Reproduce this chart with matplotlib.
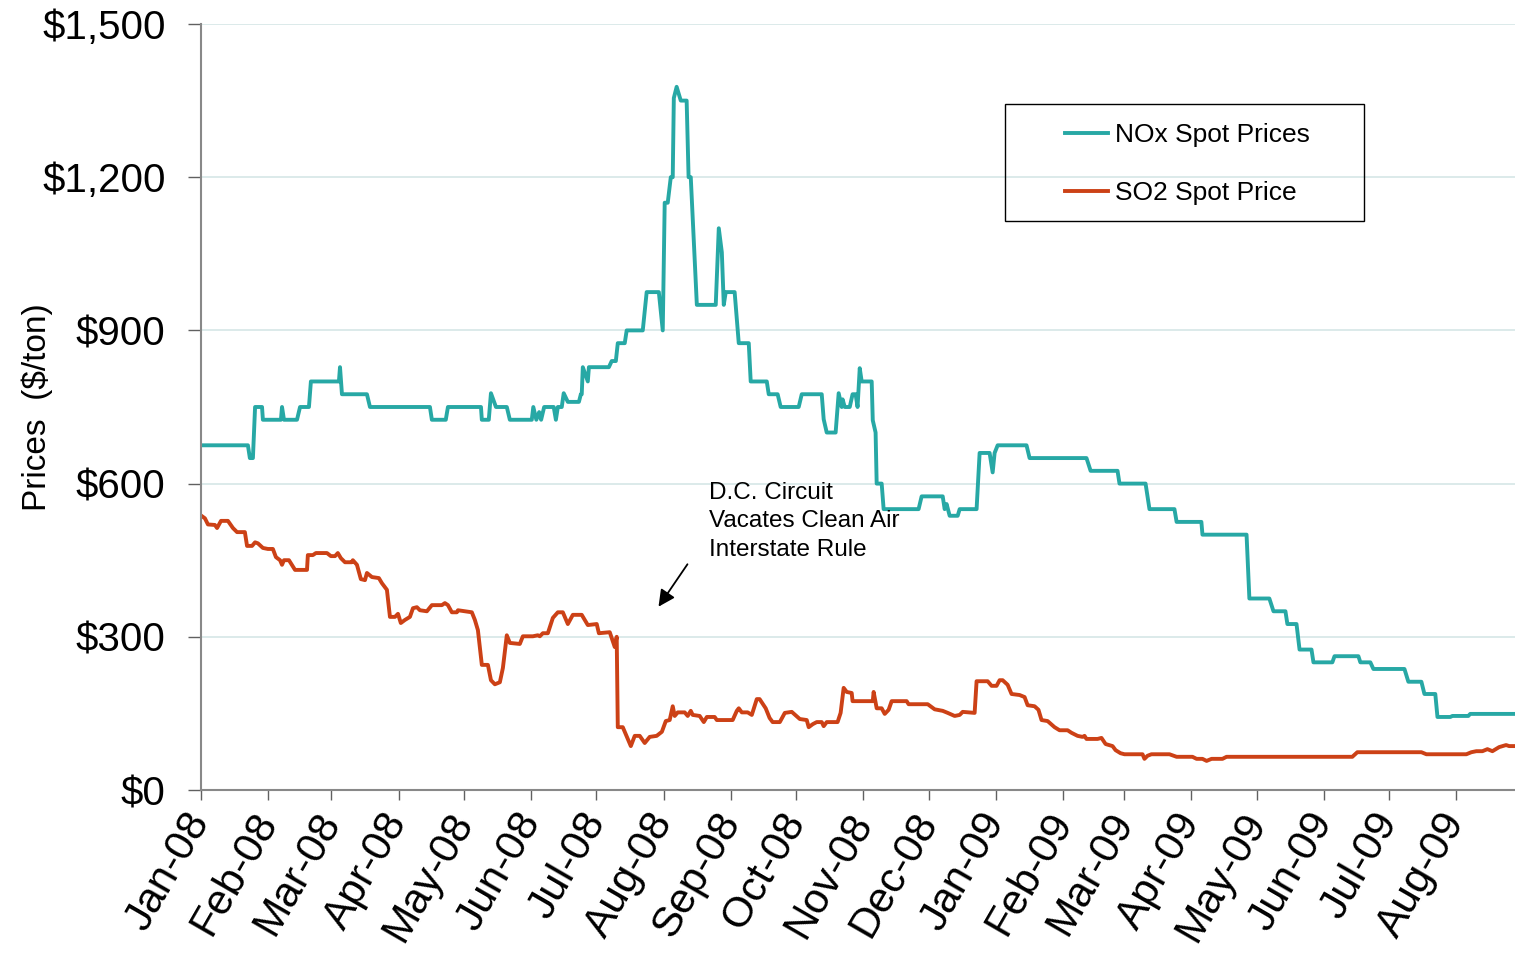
import matplotlib
matplotlib.use("Agg")
import matplotlib.pyplot as plt
import matplotlib.dates as mdates
from matplotlib.patches import Rectangle
import numpy as np
from datetime import datetime

plt.rcParams['font.family'] = ['Liberation Sans', 'DejaVu Sans']

# ====== data (days since 1 Jan 2008, $/ton) ======
start = datetime(2008, 1, 1)

nox_days = [0, 21.6, 22.5, 23.9, 24.9, 28.1, 28.5, 36.8, 37.3, 38.2, 44.2, 45.6, 49.7, 50.6,
            63.5, 64.0, 64.9, 76.4, 77.8, 105.4, 106.3, 112.7, 113.7, 128.9, 129.3, 132.5,
            133.5, 135.8, 140.8, 142.2, 152.3, 153.0, 154.4, 155.7, 156.6, 158.0, 162.4,
            163.4, 164.3, 166.1, 167.0, 168.9, 174.0, 174.9, 175.3, 175.8, 178.1, 178.6,
            187.8, 189.1, 191.0, 191.9, 195.1, 196.0, 203.4, 205.2, 210.8, 212.6, 213.5,
            214.9, 216.3, 217.2, 217.7, 219.0, 220.9, 223.6, 224.5, 225.5, 228.3, 237.0,
            238.4, 239.8, 240.7, 241.6, 245.7, 247.6, 252.2, 253.1, 260.5, 261.4, 265.5,
            266.9, 275.2, 276.6, 285.8, 286.7, 288.1, 292.2, 293.6, 295.0, 295.4, 296.4,
            298.7, 300.0, 301.4, 302.3, 303.3, 304.2, 308.8, 309.3, 310.6, 311.1, 313.4,
            314.3, 330.4, 331.8, 341.5, 342.4, 343.3, 344.7, 348.4, 349.3, 357.1, 358.5,
            363.1, 364.5, 365.4, 366.8, 380.1, 381.5, 407.7, 409.6, 422.0, 422.9, 434.9,
            436.7, 448.2, 449.2, 460.6, 461.1, 481.4, 482.7, 491.9, 493.8, 499.3, 500.2,
            504.4, 505.8, 511.3, 512.2, 520.9, 521.9, 532.9, 533.8, 538.4, 539.8, 554.1,
            555.9, 561.9, 563.3, 568.3, 569.3, 575.2, 576.2, 583.5, 584.4, 605.0]
nox_price = [675, 675, 650, 650, 750, 750, 725, 725, 750, 725, 725, 750, 750, 800,
             800, 828, 775, 775, 750, 750, 725, 725, 750, 750, 725, 725,
             777, 750, 750, 725, 725, 750, 725, 740, 725, 750, 750,
             725, 750, 750, 777, 760, 760, 775, 775, 828, 800, 828,
             828, 840, 840, 875, 875, 900, 900, 975, 975, 900, 1150,
             1150, 1200, 1200, 1355, 1377, 1350, 1350, 1200, 1200, 950, 950,
             1100, 1053, 950, 975, 975, 875, 875, 800, 800, 775, 775,
             750, 750, 775, 775, 726, 700, 700, 777, 750, 765, 750,
             750, 775, 775, 750, 826, 800, 800, 724, 700, 600, 600,
             550, 550, 575, 575, 550, 560, 537, 537, 550, 550, 660,
             660, 622, 660, 675, 675, 650, 650, 625, 625, 600, 600,
             550, 550, 525, 525, 500, 500, 375, 375, 350, 350, 325,
             325, 275, 275, 250, 250, 262, 262, 250, 250, 237, 237,
             212, 212, 188, 188, 143, 143, 145, 145, 149, 149]

so2_days = [0.5, 1.8, 3.2, 6.4, 7.4, 9.2, 12.4, 14.7, 16.6, 20.2, 21.2, 23.5, 24.9, 26.2,
            28.5, 30.8, 33.1, 34.5, 36.4, 37.3, 38.2, 40.5, 43.3, 48.8, 49.2, 51.5, 52.9,
            58.0, 59.8, 61.7, 63.0, 64.4, 66.3, 69.5, 69.9, 71.8, 73.6, 75.5, 76.4, 78.7,
            81.9, 83.3, 85.6, 87.0, 89.3, 90.7, 92.0, 93.9, 96.2, 97.6, 99.4, 100.8, 104.0,
            106.3, 110.9, 112.3, 113.7, 115.5, 117.8, 118.3, 124.7, 126.1, 127.5, 129.3,
            132.1, 133.5, 135.3, 137.6, 139.0, 140.8, 142.2, 146.8, 148.2, 152.8, 155.1,
            156.0, 157.4, 159.7, 162.0, 164.3, 166.6, 168.9, 171.2, 175.3, 176.7, 178.1,
            182.2, 183.2, 188.2, 190.5, 191.4, 191.9, 194.2, 197.9, 199.7, 202.0, 204.3,
            206.6, 209.8, 212.2, 214.0, 215.8, 217.2, 218.1, 219.5, 222.7, 224.1, 225.5,
            226.4, 229.6, 231.5, 232.9, 236.5, 237.5, 244.8, 246.7, 247.6, 249.0, 251.7,
            253.6, 255.9, 257.2, 260.0, 261.8, 263.2, 266.5, 268.8, 272.0, 275.7, 278.9,
            279.8, 281.7, 283.5, 285.8, 286.7, 288.1, 293.1, 294.5, 295.9, 297.3, 299.6,
            300.0, 309.3, 309.7, 311.1, 313.4, 314.8, 316.6, 318.0, 324.9, 325.8, 334.6,
            337.8, 341.5, 343.8, 347.0, 349.3, 350.7, 356.2, 357.1, 362.2, 364.0, 366.3,
            367.7, 369.1, 371.4, 373.2, 376.9, 379.2, 380.6, 383.8, 385.6, 387.0, 389.8,
            393.0, 395.3, 399.0, 400.8, 403.6, 405.9, 406.8, 407.7, 412.8, 414.6, 416.5,
            419.7, 421.1, 423.4, 425.2, 433.5, 434.4, 435.8, 437.6, 445.9, 449.2, 456.5,
            458.4, 461.1, 463.0, 465.3, 470.3, 472.2, 530.1, 532.4, 561.9, 564.2, 582.6,
            584.9, 587.2, 590.0, 592.3, 594.6, 597.7, 600.9, 602.3, 605.0]
so2_price = [536, 532, 520, 519, 513, 527, 527, 513, 505, 505, 478, 478, 485, 483,
             474, 472, 472, 456, 450, 441, 450, 450, 431, 431, 460, 460, 464,
             464, 458, 458, 464, 454, 446, 446, 450, 441, 413, 411, 425, 417,
             415, 405, 392, 339, 339, 345, 327, 333, 339, 356, 358, 352, 350,
             362, 362, 366, 362, 348, 348, 352, 348, 333, 313, 245,
             245, 215, 207, 211, 239, 303, 288, 286, 301, 301, 303,
             301, 307, 307, 337, 348, 348, 325, 343, 343, 333, 323,
             325, 307, 309, 280, 300, 123, 123, 86, 106, 106, 92,
             104, 106, 114, 135, 137, 164, 145, 152, 152, 145, 155,
             147, 145, 133, 143, 143, 137, 137, 155, 160, 152, 152,
             147, 178, 178, 160, 141, 133, 133, 151, 153, 139, 137,
             123, 129, 133, 133, 125, 133, 133, 151, 200, 192, 190,
             174, 174, 192, 160, 160, 149, 157, 174, 174, 168, 168,
             158, 155, 151, 145, 147, 153, 151, 213, 213, 204, 204,
             215, 215, 206, 188, 186, 182, 166, 164, 157, 137, 135,
             123, 117, 117, 112, 106, 104, 106, 100, 100, 102, 90,
             86, 78, 72, 70, 70, 61, 67, 70, 70, 65, 65,
             61, 61, 57, 61, 61, 65, 65, 74, 74, 70, 70,
             74, 76, 76, 80, 76, 84, 88, 86, 86]

y_ticks = [0, 300, 600, 900, 1200, 1500]
y_labels = ['$0', '$300', '$600', '$900', '$1,200', '$1,500']
note = 'D.C. Circuit\nVacates Clean Air\nInterstate Rule'

# ====== plot ======
base = mdates.date2num(start)
fig = plt.figure(figsize=(15.15, 9.57), dpi=100)
ax = fig.add_axes([201 / 1515, 1 - 790 / 957, 1314 / 1515, 766 / 957])

ax.plot(base + np.array(nox_days), nox_price, color='#27a8a5', lw=2.8, label='NOx Spot Prices')
ax.plot(base + np.array(so2_days), so2_price, color='#cc4116', lw=2.8, label='SO2 Spot Price')

ax.set_xlim(base, base + 605)
ax.set_ylim(0, 1500)
ax.set_yticks(y_ticks)
ax.set_yticklabels(y_labels)
ax.grid(axis='y', color='#d6e6e6', lw=1.2)
ax.set_axisbelow(True)

ax.xaxis.set_major_locator(mdates.MonthLocator())
ax.xaxis.set_major_formatter(mdates.DateFormatter('%b-%y'))
for lab in ax.get_xticklabels():
    lab.set_rotation(60)
    lab.set_ha('right')
    lab.set_va('center')
    lab.set_rotation_mode('anchor')

ax.tick_params(axis='y', length=9.5, width=1, color='#606060', pad=16, labelsize=29)
ax.tick_params(axis='x', length=7.5, width=1, color='#606060', pad=11, labelsize=30.5)
for s in ['top', 'right']:
    ax.spines[s].set_visible(False)
for s in ['left', 'bottom']:
    ax.spines[s].set_color('#888888')
    ax.spines[s].set_linewidth(1.5)

ax.set_ylabel('Prices  ($/ton)', fontsize=24)
ax.yaxis.set_label_coords(-0.113, 0.5)

# legend with a plain box around it
ax.add_patch(Rectangle((0.612, 0.743), 0.273, 0.1527, transform=ax.transAxes,
                       fill=False, edgecolor='black', lw=1, zorder=5))
ax.legend(loc='center', bbox_to_anchor=(0.7504, 0.8172), frameon=False, fontsize=19,
          handlelength=1.63, handletextpad=0.27, labelspacing=1.3, borderpad=0)

ax.text(0.3866, 0.4025, note, transform=ax.transAxes, fontsize=17.5, va='top', ha='left',
        linespacing=1.38)
ax.annotate('', xy=(0.3470, 0.2363), xytext=(0.3714, 0.2977), xycoords='axes fraction',
            textcoords='axes fraction',
            arrowprops=dict(arrowstyle='-|>', color='black', lw=1.3, mutation_scale=25))

fig.savefig('out.png', dpi=100)
